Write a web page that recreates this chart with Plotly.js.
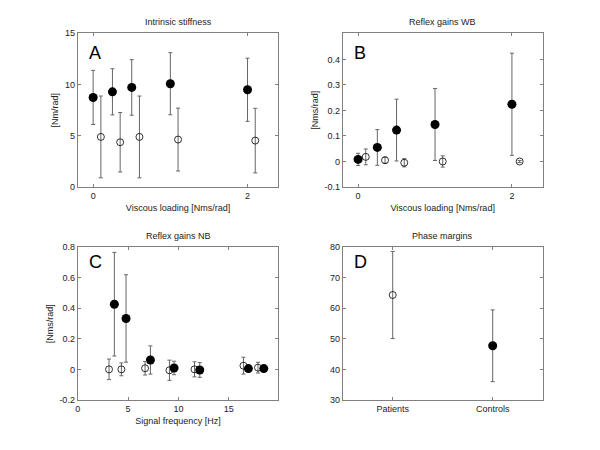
<!DOCTYPE html>
<html>
<head>
<meta charset="utf-8">
<script src="https://cdn.plot.ly/plotly-3.0.1.min.js"></script>
<style>
  html, body { margin: 0; padding: 0; background: #fff; }
  #plot { width: 600px; height: 450px; }
</style>
</head>
<body>
<div id="plot"></div>
<script>
// A: intrinsic stiffness vs viscous loading
var aLoadCtrl = [0, 0.25, 0.5, 1.0, 2.0];
var aLoadPat = [0.1, 0.35, 0.6, 1.1, 2.1];
var aCtrl = [8.74, 9.29, 9.72, 10.08, 9.49];
var aCtrlSd = [2.64, 2.25, 2.71, 3.03, 3.08];
var aPat = [4.89, 4.37, 4.89, 4.63, 4.53];
var aPatSd = [3.99, 2.9, 3.99, 3.07, 3.15];

// B: reflex gains WB
var bCtrl = [0.008, 0.055, 0.123, 0.145, 0.224];
var bCtrlSd = [0.024, 0.07, 0.121, 0.141, 0.2];
var bPat = [0.018, 0.005, -0.005, 0.0, 0.0];
var bPatSd = [0.031, 0.012, 0.016, 0.022, 0.004];

// C: reflex gains NB vs signal frequency
var cFreqCtrl = [3.64, 4.8, 7.22, 9.57, 12.12, 16.95, 18.48];
var cFreqPat = [3.11, 4.34, 6.69, 9.11, 11.6, 16.46, 17.9];
var cCtrl = [0.427, 0.334, 0.063, 0.011, -0.002, 0.007, 0.007];
var cCtrlSd = [0.338, 0.285, 0.092, 0.044, 0.048, 0.008, 0.008];
var cPat = [0.002, 0.002, 0.009, -0.004, 0.002, 0.026, 0.013];
var cPatSd = [0.067, 0.042, 0.044, 0.066, 0.049, 0.055, 0.035];

// D: phase margins
var dGroups = ['Patients', 'Controls'];
var dMean = [64.35, 47.8];
var dSd = [14.2, 11.7];

var errStyle = function (sd) {
    return {type: 'data', array: sd, visible: true, color: '#666', thickness: 1, width: 2};
};
var filled = {color: '#000', size: 9, symbol: 'circle'};
var open = {color: '#000', size: 7, symbol: 'circle-open', line: {width: 0.8, color: '#000'}};

function pts(x, y, sd, marker, xa, ya) {
    return {x: x, y: y, type: 'scatter', mode: 'markers', marker: marker,
            error_y: errStyle(sd), xaxis: xa, yaxis: ya, showlegend: false,
            cliponaxis: false};
}

var data = [
    pts(aLoadCtrl, aCtrl, aCtrlSd, filled, 'x', 'y'),
    pts(aLoadPat, aPat, aPatSd, open, 'x', 'y'),
    pts(aLoadCtrl, bCtrl, bCtrlSd, filled, 'x2', 'y2'),
    pts(aLoadPat, bPat, bPatSd, open, 'x2', 'y2'),
    pts(cFreqCtrl, cCtrl, cCtrlSd, filled, 'x3', 'y3'),
    pts(cFreqPat, cPat, cPatSd, open, 'x3', 'y3'),
    pts([dGroups[0]], [dMean[0]], [dSd[0]], open, 'x4', 'y4'),
    pts([dGroups[1]], [dMean[1]], [dSd[1]], filled, 'x4', 'y4')
];

var fontFam = 'Liberation Sans, Arial, sans-serif';
function ax(extra) {
    var base = {
        showline: true, mirror: 'ticks', linecolor: '#808080', linewidth: 1,
        ticks: 'inside', ticklen: 3, tickcolor: '#808080', tickwidth: 1,
        showgrid: false, zeroline: false,
        tickfont: {family: fontFam, size: 9, color: '#222'}
    };
    for (var k in extra) base[k] = extra[k];
    return base;
}
function ttl(t) {
    return {text: t, font: {family: fontFam, size: 9, color: '#222'}, standoff: 4};
}

var layout = {
    width: 600, height: 450,
    margin: {l: 0, r: 0, t: 0, b: 0},
    paper_bgcolor: '#fff', plot_bgcolor: '#fff',
    font: {family: fontFam, size: 9, color: '#222'},
    xaxis: ax({domain: [0.1295, 0.464], range: [-0.2, 2.4], tickvals: [0, 2],
               anchor: 'y', title: ttl('Viscous loading [Nms/rad]')}),
    yaxis: ax({domain: [0.5844, 0.926], range: [0, 15], tickvals: [0, 5, 10, 15],
               anchor: 'x', title: ttl('[Nm/rad]')}),
    xaxis2: ax({domain: [0.5712, 0.9045], range: [-0.2, 2.4], tickvals: [0, 2],
                anchor: 'y2', title: ttl('Viscous loading [Nms/rad]')}),
    yaxis2: ax({domain: [0.5844, 0.926], range: [-0.1, 0.502],
                tickvals: [-0.1, 0, 0.1, 0.2, 0.3, 0.4],
                ticktext: ['-0.1', '0', '0.1', '0.2', '0.3', '0.4'],
                anchor: 'x2', title: ttl('[Nms/rad]')}),
    xaxis3: ax({domain: [0.1295, 0.464], range: [0, 19.93], tickvals: [0, 5, 10, 15],
                anchor: 'y3', title: ttl('Signal frequency [Hz]')}),
    yaxis3: ax({domain: [0.1104, 0.4511], range: [-0.2, 0.8],
                tickvals: [-0.2, 0, 0.2, 0.4, 0.6, 0.8],
                ticktext: ['-0.2', '0', '0.2', '0.4', '0.6', '0.8'],
                anchor: 'x3', title: ttl('[Nms/rad]')}),
    xaxis4: ax({domain: [0.5712, 0.9045], type: 'category', range: [-0.5, 1.5],
                anchor: 'y4'}),
    yaxis4: ax({domain: [0.1104, 0.4511], range: [30, 80], tickvals: [30, 40, 50, 60, 70, 80],
                anchor: 'x4'}),
    annotations: []
};

var panels = [
    {x: 'x', y: 'y', title: 'Intrinsic stiffness', letter: 'A', ly: 0.87},
    {x: 'x2', y: 'y2', title: 'Reflex gains WB', letter: 'B', ly: 0.87},
    {x: 'x3', y: 'y3', title: 'Reflex gains NB', letter: 'C', ly: 0.9},
    {x: 'x4', y: 'y4', title: 'Phase margins', letter: 'D', ly: 0.9}
];
panels.forEach(function (p) {
    layout.annotations.push({
        xref: p.x + ' domain', yref: p.y + ' domain', x: 0.5, y: 1,
        yshift: 4, xanchor: 'center', yanchor: 'bottom', showarrow: false,
        text: p.title, font: {family: fontFam, size: 9, color: '#222'}
    });
    layout.annotations.push({
        xref: p.x + ' domain', yref: p.y + ' domain', x: 0.045, y: p.ly,
        xanchor: 'left', yanchor: 'middle', showarrow: false,
        text: p.letter, font: {family: fontFam, size: 18, color: '#000'}
    });
});

Plotly.newPlot('plot', data, layout, {displayModeBar: false, responsive: false});
</script>
</body>
</html>
